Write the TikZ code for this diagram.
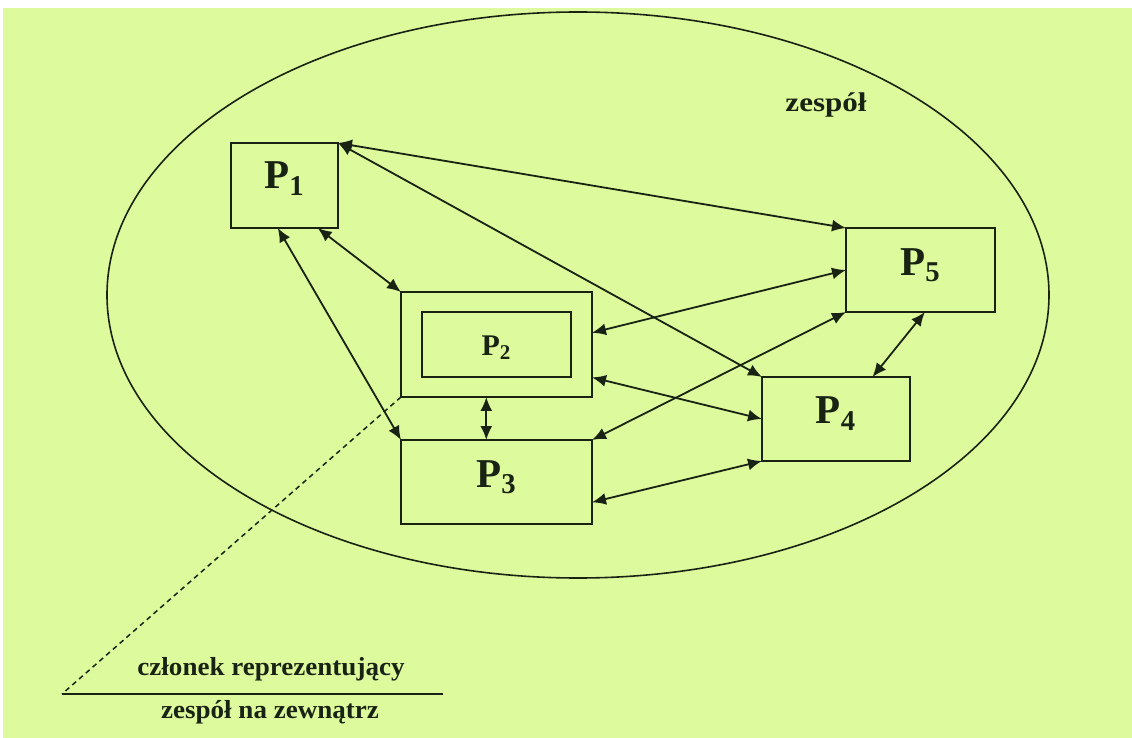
\documentclass[tikz,border=0pt]{standalone}
\usepackage{fontspec}
\setmainfont{Liberation Serif}
\usetikzlibrary{arrows.meta,shapes.geometric}
\definecolor{paper}{RGB}{221,250,157}
\definecolor{ink}{RGB}{25,35,20}
\tikzset{
  box/.style={draw=ink,line width=1pt,rectangle,inner sep=0pt,outer sep=0pt},
  plabel/.style={font=\bfseries\fontsize{20.5}{22}\selectfont,text=ink,inner sep=0pt},
  link/.style={draw=ink,line width=0.9pt,{Latex[length=7pt,width=6pt]}-{Latex[length=7pt,width=6pt]}},
  note/.style={font=\bfseries\fontsize{13}{15}\selectfont,text=ink,inner sep=0pt,anchor=base}
}
\newcommand{\wide}[2][1.04]{\scalebox{#1}[1]{#2}}
\begin{document}
\begin{tikzpicture}[x=0.5pt,y=-0.5pt]
  \useasboundingbox (0,0) rectangle (1132,738);
  \fill[white] (0,0) rectangle (1132,738);
  \fill[paper] (3,8) rectangle (1132,738);

  % the team
  \node[draw=ink,line width=0.8pt,ellipse,minimum width=471pt,minimum height=283pt,inner sep=0pt] (team) at (578,295) {};
  \node[note,font=\bfseries\fontsize{13.5}{15}\selectfont] (teamname) at (826,112) {\wide[1.15]{zespół}};

  % members
  \node[box,minimum width=53.5pt,minimum height=42.5pt] (P1) at (284.5,185.5) {};
  \node[box,minimum width=95.5pt,minimum height=52.5pt] (P2o) at (496.5,344.5) {};
  \node[box,minimum width=74.5pt,minimum height=32.5pt] (P2) at (496.5,344.5) {};
  \node[box,minimum width=95.5pt,minimum height=42pt] (P3) at (496.5,482) {};
  \node[box,minimum width=74pt,minimum height=42pt] (P4) at (836,419) {};
  \node[box,minimum width=74.5pt,minimum height=42pt] (P5) at (920.5,270) {};

  \node[plabel,yshift=3.5pt] (t1) at (P1.center) {P\textsubscript{1}};
  \node[plabel,font=\bfseries\fontsize{15}{17}\selectfont,yshift=-1.75pt] (t2) at (P2.center) {P\textsubscript{2}};
  \node[plabel,yshift=2.25pt] (t3) at (P3.center) {P\textsubscript{3}};
  \node[plabel,yshift=2.75pt] (t4) at (P4.center) {P\textsubscript{4}};
  \node[plabel,yshift=2.5pt] (t5) at (P5.center) {P\textsubscript{5}};

  % relations between members
  \draw[link] (P1.north east) -- (P5.north west);
  \draw[link] (P1.north east) -- (P4.north west);
  \draw[link] (P1.-52) -- (P2o.north west);
  \draw[link] (P1.-99) -- (P3.north west);
  \draw[link] (P2o.7) -- (P5.west);
  \draw[link] (P2o.-19) -- (P4.west);
  \draw[link] (P3.north east) -- (P5.south west);
  \draw[link] (P3.-12) -- (P4.south west);
  \draw[link] (P2o.-101) -- (P2o.-101 |- P3.north);
  \draw[link] (P5.-84) -- (P4.49);

  % representative member note
  \coordinate (lineL) at (62,694);
  \coordinate (lineR) at (443,694);
  \draw[ink,line width=0.75pt,dash pattern=on 2.5pt off 2pt] (P2o.south west) -- (lineL);
  \draw[ink,line width=0.9pt] (lineL) -- (lineR);
  \node[note] (rep1) at (271,675) {\wide{członek reprezentujący}};
  \node[note] (rep2) at (270,718) {\wide{zespół na zewnątrz}};
\end{tikzpicture}
\end{document}
